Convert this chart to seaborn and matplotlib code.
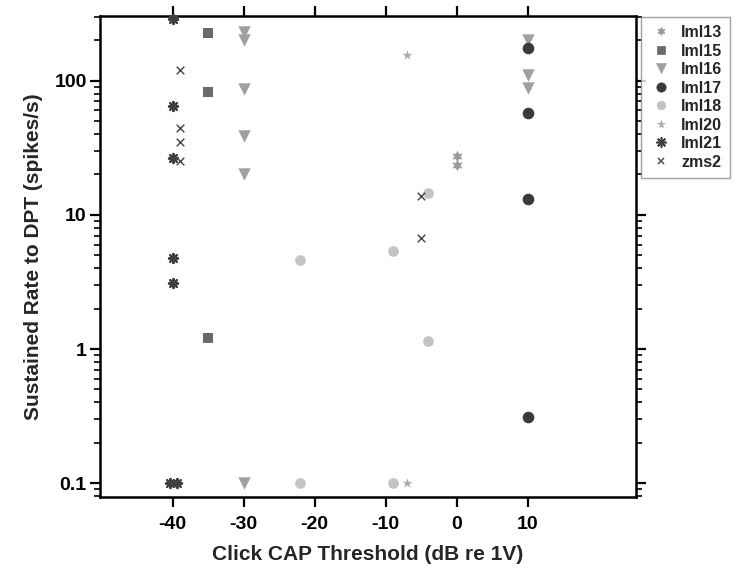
import numpy as np
import pandas as pd
import matplotlib
matplotlib.use("Agg")
import matplotlib.pyplot as plt
import seaborn as sns
from matplotlib import font_manager as fm
from matplotlib.ticker import LogLocator, NullFormatter

# ---- data ----
units = ["lml13", "lml15", "lml16", "lml17", "lml18", "lml20", "lml21", "zms2"]

lml13_x = [0, 0]
lml13_y = [27.5, 23.5]

lml15_x = [-35, -35, -35]
lml15_y = [225, 82, 1.2]

lml16_x = [-30, -30, -30, -30, -30, -30, 10, 10, 10]
lml16_y = [232, 201, 86, 39, 20, 0.1, 200, 110, 88]

lml17_x = [10, 10, 10, 10]
lml17_y = [176, 57, 13.1, 0.31]

lml18_x = [-22, -9, -4, -4, -22, -9]
lml18_y = [4.6, 5.4, 14.5, 1.15, 0.1, 0.1]

lml20_x = [-7, -7]
lml20_y = [155, 0.1]

lml21_x = [-40, -40, -40, -40, -40, -40.3, -39.3]
lml21_y = [290, 65, 26.7, 4.8, 3.1, 0.1, 0.1]

zms2_x = [-39, -39, -39, -39, -5, -5]
zms2_y = [120, 44, 35, 25, 13.8, 6.7]

xs = [lml13_x, lml15_x, lml16_x, lml17_x, lml18_x, lml20_x, lml21_x, zms2_x]
ys = [lml13_y, lml15_y, lml16_y, lml17_y, lml18_y, lml20_y, lml21_y, zms2_y]

x_ticks = [-40, -30, -20, -10, 0, 10]
y_ticks = [0.1, 1, 10, 100]
y_tick_labels = ["0.1", "1", "10", "100"]

df = pd.concat(
    [pd.DataFrame({"unit": u, "x": x, "y": y}) for u, x, y in zip(units, xs, ys)],
    ignore_index=True,
)

styles = {
    "lml13": dict(marker=(6, 1, 0), color="#9a9a9a", s=55, lw=0.5),
    "lml15": dict(marker="s", color="#6a6a6a", s=45, lw=0),
    "lml16": dict(marker="v", color="#a0a0a0", s=80, lw=0),
    "lml17": dict(marker="o", color="#3a3a3a", s=70, lw=0),
    "lml18": dict(marker="o", color="#c4c4c4", s=60, lw=0),
    "lml20": dict(marker="*", color="#acacac", s=55, lw=0),
    "lml21": dict(marker=(8, 2, 0), color="#404040", s=45, lw=1.5),
    "zms2": dict(marker="x", color="#505050", s=30, lw=1.1),
}

sns.set_theme(style="white")
plt.rcParams["font.family"] = ["Liberation Sans", "DejaVu Sans"]
plt.rcParams["font.weight"] = "bold"
plt.rcParams["axes.labelweight"] = "bold"

bold_path = fm.findfont(fm.FontProperties(family="Liberation Sans", weight="bold"))
def bf(size):
    return fm.FontProperties(fname=bold_path, size=size)

fig = plt.figure(figsize=(7.47, 5.79), dpi=100)
ax = fig.add_axes([100 / 747, 1 - 497 / 579, (636 - 100) / 747, (497 - 16) / 579])

handles = []
for u in units:
    st = styles[u]
    sub = df[df["unit"] == u]
    sns.scatterplot(
        data=sub, x="x", y="y", ax=ax, marker=st["marker"], color=st["color"],
        s=st["s"], linewidth=st["lw"], edgecolor=st["color"],
        clip_on=False, zorder=3, legend=False,
    )
    msize = np.sqrt(st["s"]) * 0.8
    mew = st["lw"] if st["lw"] else 0.5
    if u == "lml21":
        msize, mew = 7.5, 1.2
    handles.append(
        plt.Line2D([], [], linestyle="none", marker=st["marker"], color=st["color"],
                   markerfacecolor=st["color"], markeredgecolor=st["color"],
                   markersize=msize, markeredgewidth=mew)
    )

ax.set_yscale("log")
ax.set_xlim(-50.2, 25.2)
ax.set_ylim(0.079, 303)

ax.set_xticks(x_ticks)
ax.set_xticklabels([str(t) for t in x_ticks], fontproperties=bf(14))
ax.set_yticks(y_ticks)
ax.set_yticklabels(y_tick_labels, fontproperties=bf(14))
ax.yaxis.set_minor_locator(LogLocator(base=10, subs=np.arange(2, 10)))
ax.yaxis.set_minor_formatter(NullFormatter())

for sp in ax.spines.values():
    sp.set_visible(True)
    sp.set_color("black")
    sp.set_linewidth(1.8)

ax.tick_params(axis="both", which="major", direction="out", length=7.5, width=1.6,
               colors="black", top=True, right=True, bottom=True, left=True,
               labeltop=False, labelright=False)
ax.tick_params(axis="y", which="major", pad=2)
ax.tick_params(axis="x", which="major", pad=6)
ax.tick_params(axis="y", which="minor", direction="out", length=4, width=1.2,
               left=True, right=True, colors="black")

ax.set_xlabel("Click CAP Threshold (dB re 1V)", fontproperties=bf(15), labelpad=9)
ax.set_ylabel("Sustained Rate to DPT (spikes/s)", fontproperties=bf(15), labelpad=8)

leg = fig.legend(handles, units, loc="upper left", bbox_to_anchor=(641 / 747, 1 - 17 / 579),
                 frameon=True, fancybox=False, prop=bf(11.5), handletextpad=0.5,
                 labelspacing=0.22, borderpad=0.5, handlelength=1.5, borderaxespad=0)
leg.get_frame().set_edgecolor("#888888")
leg.get_frame().set_linewidth(1.0)

fig.savefig("out.png", dpi=100)
